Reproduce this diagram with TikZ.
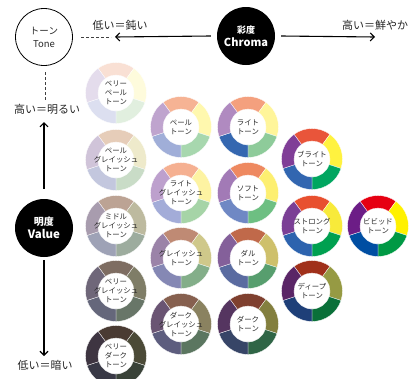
\documentclass[tikz,border=0pt]{standalone}
\usepackage{fontspec}
\setmainfont{Noto Sans CJK JP}
\usetikzlibrary{arrows.meta}
\definecolor{txtgray}{HTML}{2A2A2A}
\tikzset{
  wheeltext/.style={align=center,font=\fontsize{7.4}{9}\selectfont,text=txtgray,inner sep=0pt},
  axislabel/.style={font=\fontsize{11}{12}\selectfont,text=black!85,inner sep=0pt},
  axisarrow/.style={line width=1.1pt,-{Straight Barb[length=4pt,width=8pt,line width=1.1pt]}},
  axisdash/.style={line width=0.8pt,dash pattern=on 2.5pt off 2.5pt,black!75},
  blackcircle/.style={circle,fill=black,minimum size=58pt,inner sep=0pt,text=white,align=center},
  seg/.style={draw=white,line width=0.3pt}
}
\newcommand{\tonewheel}[9]{%
  \definecolor{wA}{HTML}{#4}\definecolor{wB}{HTML}{#5}\definecolor{wC}{HTML}{#6}%
  \definecolor{wD}{HTML}{#7}\definecolor{wE}{HTML}{#8}%
  \begin{scope}[shift={(#2,#3)}]
    \fill[wA,seg] (54:30.5pt) arc[start angle=54,end angle=126,radius=30.5pt] -- (126:18pt) arc[start angle=126,end angle=54,radius=18pt] -- cycle;
    \fill[wB,seg] (-18:30.5pt) arc[start angle=-18,end angle=54,radius=30.5pt] -- (54:18pt) arc[start angle=54,end angle=-18,radius=18pt] -- cycle;
    \fill[wC,seg] (-90:30.5pt) arc[start angle=-90,end angle=-18,radius=30.5pt] -- (-18:18pt) arc[start angle=-18,end angle=-90,radius=18pt] -- cycle;
    \fill[wD,seg] (198:30.5pt) arc[start angle=198,end angle=270,radius=30.5pt] -- (270:18pt) arc[start angle=270,end angle=198,radius=18pt] -- cycle;
    \fill[wE,seg] (126:30.5pt) arc[start angle=126,end angle=198,radius=30.5pt] -- (198:18pt) arc[start angle=198,end angle=126,radius=18pt] -- cycle;
  \end{scope}
  \node[wheeltext] (#1) at (#2,#3) {#9};
}
\begin{document}
\begin{tikzpicture}[x=1pt,y=1pt]
\useasboundingbox[fill=white] (0,0) rectangle (415,-378);

% axes
\node[circle,draw=black,line width=0.8pt,minimum size=57pt,inner sep=0pt,align=center,
      font=\fontsize{9.5}{13}\selectfont,text=txtgray] (tone) at (44,-37) {トーン\\Tone};
\node[blackcircle] (chroma) at (246,-36) {{\fontsize{9}{11}\selectfont\bfseries 彩度}\\[1pt]{\fontsize{11}{12}\selectfont\bfseries Chroma}};
\node[blackcircle] (value) at (44,-228) {{\fontsize{10}{12}\selectfont\bfseries 明度}\\[1pt]{\fontsize{11.5}{13}\selectfont\bfseries Value}};

\coordinate (lowC) at (115,-37);
\coordinate (dashCs) at (81,-37);
\coordinate (dashCe) at (111,-37);
\coordinate (highC) at (375,-37);
\coordinate (dashVs) at (45,-72);
\coordinate (dashVe) at (45,-100);
\coordinate (highV) at (44,-122);
\coordinate (lowV) at (44,-356);

\draw[axisdash] (dashCs) -- (dashCe);
\draw[axisarrow] ([xshift=-6pt]chroma.west) -- (lowC);
\draw[axisarrow] ([xshift=6pt]chroma.east) -- (highC);
\draw[axisdash] (dashVs) -- (dashVe);
\draw[axisarrow] ([yshift=10pt]value.north) -- (highV);
\draw[axisarrow] ([yshift=-3pt]value.south) -- (lowV);

\node[axislabel] (lblLowC) at (120,-25) {低い＝鈍い};
\node[axislabel] (lblHighC) at (375,-25) {高い＝鮮やか};
\node[axislabel] (lblHighV) at (47,-109) {高い＝明るい};
\node[axislabel] (lblLowV) at (45,-365) {低い＝暗い};

% column 1
\tonewheel{vp}{116}{-93}{F9E0D4}{FEFBDC}{E1EFDF}{DCDFF0}{E4DCEC}{ベリー\\ペール\\トーン}
\tonewheel{pg}{116}{-160}{E6CDB9}{EEEACB}{C9DCC7}{C3C7DE}{D0C4D9}{ペール\\グレイッシュ\\トーン}
\tonewheel{mg}{116}{-226}{BCA394}{BDBA9F}{9DAC9E}{9EA2B6}{A89CAE}{ミドル\\グレイッシュ\\トーン}
\tonewheel{vg}{116}{-291}{7E6D62}{7F7D67}{687668}{65677B}{6F6779}{ベリー\\グレイッシュ\\トーン}
\tonewheel{vd}{116}{-356}{4A3B33}{4B4A37}{394238}{393946}{3E3541}{ベリー\\ダーク\\トーン}

% column 2
\tonewheel{pale}{181}{-127}{F6B394}{FFF8AE}{A7D7AE}{A0AED8}{BFA4CE}{ペール\\トーン}
\tonewheel{lg}{181}{-193}{F5B091}{FDF3A2}{A6D4A7}{A3ACD8}{BDA0CD}{ライト\\グレイッシュ\\トーン}
\tonewheel{gr}{181}{-258}{BF8A74}{CFC88A}{83AE89}{8588B4}{9B83A8}{グレイッシュ\\トーン}
\tonewheel{dg}{181}{-324}{86604F}{8A8260}{5B7660}{5D5D7E}{6A5473}{ダーク\\グレイッシュ\\トーン}

% column 3
\tonewheel{lt}{248}{-127}{F4A07E}{FFF59A}{8ECB9A}{3567B0}{B08AC0}{ライト\\トーン}
\tonewheel{sf}{248}{-193}{EE8960}{FDEF70}{6DBF82}{6F88C4}{A27AB6}{ソフト\\トーン}
\tonewheel{dl}{248}{-258}{C0694A}{CEC06B}{579E6E}{5A6BA0}{84609A}{ダル\\トーン}
\tonewheel{dk}{248}{-324}{7F402F}{837F3E}{2F6546}{374567}{553560}{ダーク\\トーン}

% column 4
\tonewheel{br}{312}{-159}{E9553A}{FFF23F}{00A660}{3266B0}{803E97}{ブライト\\トーン}
\tonewheel{st}{312}{-226}{E8502F}{F8EA3A}{00A050}{2D63AE}{7B3F95}{ストロング\\トーン}
\tonewheel{dp}{312}{-291}{A0301A}{969A43}{0A7039}{1E3F78}{5A2566}{ディープ\\トーン}

% column 5
\tonewheel{vv}{378}{-226}{E60012}{FFF100}{009944}{004EA2}{6C1D86}{ビビッド\\トーン}
\end{tikzpicture}
\end{document}
